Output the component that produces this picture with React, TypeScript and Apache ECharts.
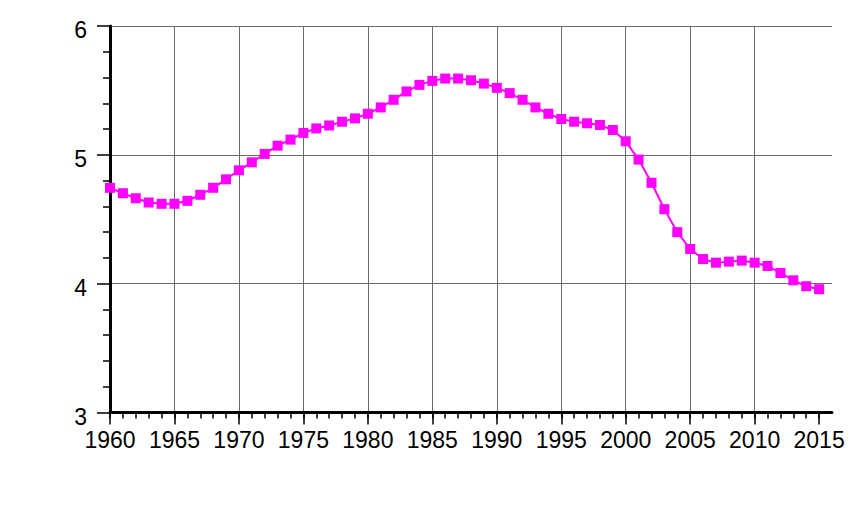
import React, { useEffect, useRef } from "react";
import * as echarts from "echarts";

const years: number[] = [];
for (let y = 1960; y <= 2015; y++) years.push(y);

const values: number[] = [
  4.744, 4.702, 4.663, 4.63, 4.62, 4.62, 4.643, 4.69, 4.744, 4.81,
  4.880, 4.942, 5.007, 5.071, 5.118, 5.17, 5.205, 5.228, 5.257, 5.283,
  5.319, 5.368, 5.427, 5.492, 5.543, 5.574, 5.592, 5.592, 5.579, 5.553,
  5.52, 5.479, 5.427, 5.368, 5.319, 5.278, 5.257, 5.245, 5.232, 5.193,
  5.105, 4.963, 4.783, 4.578, 4.40, 4.269, 4.191, 4.163, 4.171, 4.179,
  4.163, 4.137, 4.083, 4.026, 3.98, 3.957,
];

const xTickLabels: number[] = [1960, 1965, 1970, 1975, 1980, 1985, 1990, 1995, 2000, 2005, 2010, 2015];
const yTickLabels: number[] = [3, 4, 5, 6];

export default function App() {
  const ref = useRef<HTMLDivElement>(null);
  useEffect(() => {
    if (!ref.current) return;
    const chart = echarts.init(ref.current, null, { renderer: "svg" });
    const font = "'Liberation Sans', Arial, sans-serif";
    const gridColor = "#6a6a6a";
    chart.setOption({
      animation: false,
      backgroundColor: "#ffffff",
      grid: { left: 110, right: 22, top: 26, bottom: 99.5, containLabel: false, outerBoundsMode: "none" },
      xAxis: [
        {
          type: "value",
          min: 1960,
          max: 2016,
          interval: 5,
          axisLine: { show: true, onZero: false, lineStyle: { color: "#000", width: 3 } },
          axisTick: { show: true, length: 12, customValues: xTickLabels, lineStyle: { color: "#000", width: 1.5 } },
          axisLabel: {
            show: true,
            customValues: xTickLabels,
            fontSize: 23,
            fontFamily: font,
            color: "#000",
            margin: 16,
            formatter: (v: number) => String(v),
          },
          splitLine: { show: true, showMinLine: false, showMaxLine: false, lineStyle: { color: gridColor, width: 1 } },
        },
        {
          type: "value",
          position: "bottom",
          min: 1960,
          max: 2016,
          interval: 1,
          axisLine: { show: false },
          axisTick: { show: true, length: 6, customValues: years, lineStyle: { color: "#000", width: 1.5 } },
          axisLabel: { show: false },
          splitLine: { show: false },
        },
      ],
      yAxis: {
        type: "value",
        min: 3,
        max: 6,
        interval: 1,
        axisLine: { show: true, onZero: false, lineStyle: { color: "#000", width: 3 } },
        axisTick: { show: true, length: 13, lineStyle: { color: "#000", width: 1.5 } },
        minorTick: { show: true, splitNumber: 5, length: 7, lineStyle: { color: "#000", width: 1.5 } },
        axisLabel: {
          show: true,
          color: "#000",
          margin: 23,
          customValues: yTickLabels,
          formatter: (v: number) => "{a|" + v + "}",
          rich: {
            a: { fontSize: 23, fontFamily: font, color: "#000", padding: [8, 0, 0, 0] },
          },
        },
        splitLine: { show: true, showMinLine: false, lineStyle: { color: gridColor, width: 1 } },
      },
      series: [
        {
          type: "line",
          xAxisIndex: 0,
          data: years.map((y, i) => [y, values[i]]),
          symbol: "rect",
          symbolSize: 10,
          itemStyle: { color: "#ff00ff" },
          lineStyle: { color: "#ff00ff", width: 2 },
        },
      ],
    });
    return () => chart.dispose();
  }, []);
  return (
    <div
      ref={ref}
      style={{ position: "fixed", left: 0, top: 0, width: 854, height: 512, background: "#fff" }}
    />
  );
}
